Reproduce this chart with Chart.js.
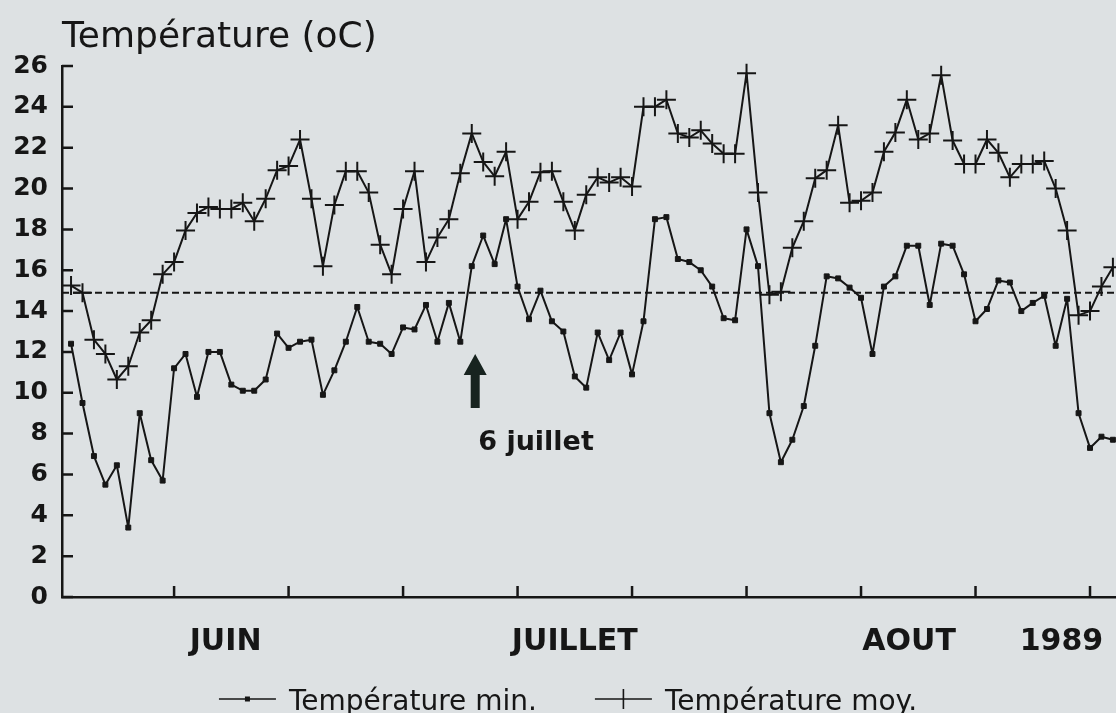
<!DOCTYPE html>
<html lang="fr">
<head>
<meta charset="utf-8">
<title>Température</title>
<script src="https://cdn.jsdelivr.net/npm/chart.js@4.4.1/dist/chart.umd.min.js"></script>
<style>
  html, body { margin: 0; padding: 0; background: #dde1e3; }
  canvas { display: block; }
</style>
</head>
<body>
<canvas id="chart" width="1116" height="713"></canvas>
<script>
// daily values, 1 June (index 0) to 31 August 1989 (index 91)
const tMin = [
  12.4, 9.5, 6.9, 5.5, 6.45, 3.4, 9.0, 6.7, 5.7, 11.2,
  11.9, 9.8, 12.0, 12.0, 10.4, 10.1, 10.1, 10.65, 12.9, 12.2,
  12.5, 12.6, 9.9, 11.1, 12.5, 14.2, 12.5, 12.4, 11.9, 13.2,
  13.1, 14.3, 12.5, 14.4, 12.5, 16.2, 17.7, 16.3, 18.5, 15.2,
  13.6, 15.0, 13.5, 13.0, 10.8, 10.25, 12.95, 11.6, 12.95, 10.9,
  13.5, 18.5, 18.6, 16.55, 16.4, 16.0, 15.2, 13.65, 13.55, 18.0,
  16.2, 9.0, 6.6, 7.7, 9.35, 12.3, 15.7, 15.6, 15.15, 14.65,
  11.9, 15.2, 15.7, 17.2, 17.2, 14.3, 17.3, 17.2, 15.8, 13.5,
  14.1, 15.5, 15.4, 14.0, 14.4, 14.75, 12.3, 14.6, 9.0, 7.3,
  7.85, 7.7
];
const tMoy = [
  15.25, 14.9, 12.6, 11.9, 10.65, 11.3, 12.95, 13.55, 15.8, 16.4,
  17.95, 18.8, 19.1, 19.0, 19.0, 19.3, 18.4, 19.5, 20.9, 21.1,
  22.4, 19.5, 16.2, 19.2, 20.85, 20.85, 19.8, 17.25, 15.8, 19.0,
  20.85, 16.4, 17.6, 18.5, 20.75, 22.7, 21.3, 20.6, 21.8, 18.5,
  19.35, 20.8, 20.85, 19.35, 17.95, 19.7, 20.55, 20.3, 20.55, 20.1,
  24.0, 24.0, 24.35, 22.7, 22.5, 22.85, 22.2, 21.7, 21.7, 25.65,
  19.8, 14.8, 14.95, 17.1, 18.4, 20.5, 20.9, 23.1, 19.3, 19.4,
  19.8, 21.8, 22.75, 24.35, 22.4, 22.7, 25.55, 22.35, 21.2, 21.2,
  22.4, 21.75, 20.55, 21.2, 21.2, 21.35, 20.0, 17.95, 13.8, 14.0,
  15.2, 16.15
];
const seriesNames = ['Température min.', 'Température moy.'];

const dayTicks = [9, 19, 29, 39, 49, 59, 69, 79, 89];
const monthPos = [13.5, 44, 73.2, 86.5];
const monthLabels = ['JUIN', 'JUILLET', 'AOUT', '1989'];

const yTitle = 'Température (oC)';
const refLevel = 14.9;          // dashed reference line
const arrowDay = 35.3;          // 6 July
const arrowTop = 11.9, arrowBottom = 9.25;
const arrowText = '6 juillet';
const arrowTextLevel = 7.2;

const INK = '#161616';
const FONT = '"DejaVu Sans", "Liberation Sans", sans-serif';
const X_MIN = -0.79, X_MAX = 91.27;

/* ---------- legend symbols ---------- */
function drawSymbol(ctx, kind, x, y) {
  ctx.lineWidth = 1.6;
  ctx.beginPath();
  ctx.moveTo(x, y);
  ctx.lineTo(x + 57, y);
  ctx.stroke();
  if (kind === 'rect') {
    ctx.fillRect(x + 26, y - 2.5, 5, 5);
  } else {
    ctx.beginPath();
    ctx.moveTo(x + 28.5, y - 10);
    ctx.lineTo(x + 28.5, y + 10);
    ctx.stroke();
  }
}

/* ---------- extra drawing: ticks, reference line, arrow, title, legend ---------- */
const decorations = {
  id: 'decorations',
  beforeDatasetsDraw(chart) {
    const { ctx, chartArea: a, scales: { y } } = chart;
    const py = y.getPixelForValue(refLevel);
    ctx.save();
    ctx.strokeStyle = INK;
    ctx.lineWidth = 2;
    ctx.setLineDash([7, 4]);
    ctx.beginPath();
    ctx.moveTo(a.left, py);
    ctx.lineTo(a.right, py);
    ctx.stroke();
    ctx.restore();
  },
  afterDraw(chart) {
    const { ctx, chartArea: a, scales: { x, y } } = chart;
    ctx.save();
    ctx.strokeStyle = INK;
    ctx.fillStyle = INK;

    // inward tick marks
    ctx.lineWidth = 2.5;
    ctx.beginPath();
    y.ticks.forEach((t) => {
      const py = y.getPixelForValue(t.value);
      ctx.moveTo(a.left, py);
      ctx.lineTo(a.left + 11, py);
    });
    x.ticks.forEach((t) => {
      const px = x.getPixelForValue(t.value);
      ctx.moveTo(px, a.bottom);
      ctx.lineTo(px, a.bottom - 11);
    });
    ctx.stroke();

    // arrow
    const ax = x.getPixelForValue(arrowDay);
    const tipY = y.getPixelForValue(arrowTop);
    const baseY = y.getPixelForValue(arrowBottom);
    ctx.fillStyle = '#17231f';
    ctx.beginPath();
    ctx.moveTo(ax, tipY);
    ctx.lineTo(ax + 11.5, tipY + 21);
    ctx.lineTo(ax + 4.5, tipY + 21);
    ctx.lineTo(ax + 4.5, baseY);
    ctx.lineTo(ax - 4.5, baseY);
    ctx.lineTo(ax - 4.5, tipY + 21);
    ctx.lineTo(ax - 11.5, tipY + 21);
    ctx.closePath();
    ctx.fill();

    ctx.fillStyle = INK;
    ctx.textBaseline = 'alphabetic';
    ctx.textAlign = 'left';
    ctx.font = 'bold 27px ' + FONT;
    ctx.fillText(arrowText, ax + 3, y.getPixelForValue(arrowTextLevel));

    // axis title
    ctx.font = '36px ' + FONT;
    ctx.fillText(yTitle, a.left, 47);

    // legend
    ctx.font = '28px ' + FONT;
    const kinds = ['rect', 'cross'];
    const widths = seriesNames.map((n) => 57 + 13 + ctx.measureText(n).width);
    const gap = 58;
    let lx = chart.width / 2 + 10 - (widths[0] + widths[1] + gap) / 2;
    seriesNames.forEach((name, i) => {
      drawSymbol(ctx, kinds[i], lx, 699);
      ctx.fillText(name, lx + 70, 710);
      lx += widths[i] + gap;
    });
    ctx.restore();
  }
};

const chart = new Chart(document.getElementById('chart'), {
  type: 'line',
  data: {
    datasets: [
      {
        label: seriesNames[0],
        data: tMin.map((v, i) => ({ x: i, y: v })),
        borderColor: INK,
        borderWidth: 2,
        borderJoinStyle: 'round',
        pointStyle: 'rect',
        pointRadius: 3.5,
        pointBackgroundColor: INK,
        pointBorderColor: INK,
        pointBorderWidth: 1,
        tension: 0,
        clip: false
      },
      {
        label: seriesNames[1],
        data: tMoy.map((v, i) => ({ x: i, y: v })),
        borderColor: INK,
        borderWidth: 2,
        borderJoinStyle: 'round',
        pointStyle: 'cross',
        pointRadius: 9.5,
        pointBorderColor: INK,
        pointBorderWidth: 2,
        tension: 0,
        clip: false
      }
    ]
  },
  options: {
    responsive: false,
    animation: false,
    devicePixelRatio: 1,
    layout: { autoPadding: false, padding: { top: 66, right: 0, bottom: 0, left: 0 } },
    plugins: { legend: { display: false }, tooltip: { enabled: false } },
    scales: {
      y: {
        min: 0,
        max: 26,
        ticks: { stepSize: 2, color: INK, padding: 14, font: { family: FONT, size: 25, weight: 'bold' } },
        grid: { display: false, drawTicks: false },
        border: { color: INK, width: 2.5 },
        afterFit: (s) => { s.width = 62; }
      },
      x: {
        type: 'linear',
        weight: 0,
        min: X_MIN,
        max: X_MAX,
        afterBuildTicks: (s) => { s.ticks = dayTicks.map((v) => ({ value: v })); },
        ticks: { display: false },
        grid: { display: false, drawTicks: false },
        border: { color: INK, width: 2.5 },
        afterFit: (s) => { s.height = 27; }
      },
      months: {
        type: 'linear',
        position: 'bottom',
        weight: 1,
        min: X_MIN,
        max: X_MAX,
        afterBuildTicks: (s) => { s.ticks = monthPos.map((v) => ({ value: v })); },
        ticks: {
          autoSkip: false,
          maxRotation: 0,
          color: INK,
          padding: 0,
          font: { family: FONT, size: 30, weight: 'bold' },
          callback: (v, i) => monthLabels[i]
        },
        grid: { display: false, drawTicks: false },
        border: { display: false },
        afterFit: (s) => { s.height = 89; }
      }
    }
  },
  plugins: [decorations]
});
</script>
</body>
</html>
